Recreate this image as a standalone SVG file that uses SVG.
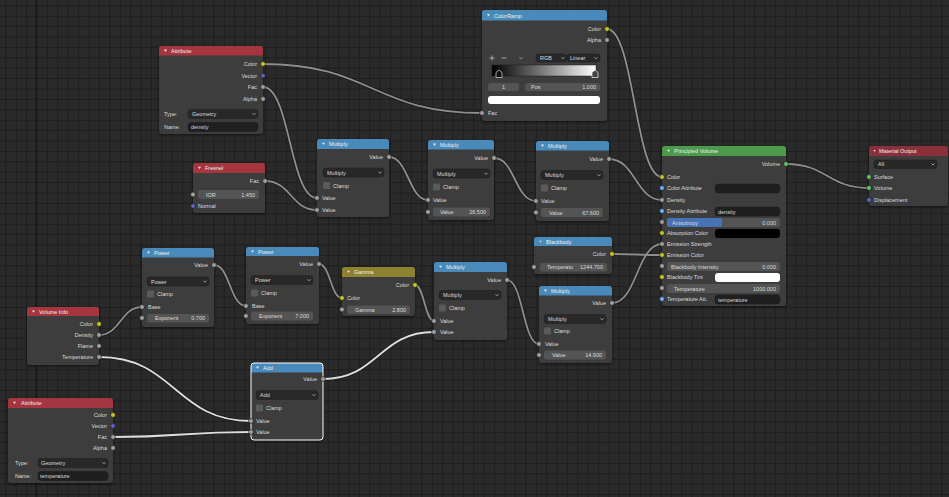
<svg xmlns="http://www.w3.org/2000/svg" width="949" height="497" viewBox="0 0 949 497">
<defs>
<pattern id="grid" patternUnits="userSpaceOnUse" x="5.3" y="5.3" width="10.4" height="10.4">
<rect width="10.4" height="10.4" fill="#2a2a2a"/>
<rect width="1" height="10.4" fill="#1e1e1e"/>
<rect width="10.4" height="1" fill="#1e1e1e"/>
</pattern>
<filter id="sh" x="-10%" y="-10%" width="120%" height="125%">
<feDropShadow dx="0" dy="1" stdDeviation="1.5" flood-color="#000" flood-opacity="0.6"/>
</filter>
<linearGradient id="ramp" x1="0" x2="1" y1="0" y2="0">
<stop offset="0" stop-color="#000"/>
<stop offset="1" stop-color="#fff"/>
</linearGradient>
<style>
text{font-family:"Liberation Sans",Arial,sans-serif;font-size:5.5px;fill:#dcdcdc}
.h{fill:#f0f0f0}
.r{text-anchor:end}
.c{text-anchor:middle}
.body{fill:#3d3d3d;filter:url(#sh)}
.hi{fill:#a5363f}
.hc{fill:#4a8abb}
.hs{fill:#4c9a4a}
.hg{fill:#8e8230}
.ho{fill:#8b2f3a}
.tri{fill:#e8e8e8}
.dd{fill:#282828;stroke:#1c1c1c;stroke-width:0.5}
.num{fill:#545454}
.tf{fill:#1f1f1f;stroke:#1a1a1a;stroke-width:0.5}
.cb{fill:#5a5a5a}
.chev{fill:none;stroke:#cfcfcf;stroke-width:0.7}
.s{stroke:#151515;stroke-width:0.6}
.sy{fill:#c7c729}
.sg{fill:#a1a1a1}
.sp{fill:#6363c7}
.sv{fill:#63c763}
.sb{fill:#70b2ff}
.lo{fill:none;stroke:#1a1a1a;stroke-width:3.2}
.li{fill:none;stroke:#8e8e8e;stroke-width:1.8}
.ls{fill:none;stroke:#dedede;stroke-width:1.8}
</style>
</defs>
<rect width="949" height="497" fill="url(#grid)"/>
<rect x="35.6" y="0" width="1" height="497" fill="#141414"/>

<g id="connectors">
<g class="lo">
<path d="M263,64 C372,64 373,113 482,113"/>
<path d="M263,87 C290,87 290,198 317,198"/>
<path d="M265,181 C291,181 291,210 317,210"/>
<path d="M389,157 C408,157 409,200 428,200"/>
<path d="M494,158 C515,158 515,201 536,201"/>
<path d="M609,159 C635,159 636,200 662,200"/>
<path d="M607,29 C634,29 635,177 662,177"/>
<path d="M786,164 C827,164 828,188 869,188"/>
<path d="M99,335 C120,335 121,307 142,307"/>
<path d="M214,265 C230,265 230,306 246,306"/>
<path d="M319,264 C330,264 331,298 342,298"/>
<path d="M415,285 C424,285 425,321 434,321"/>
<path d="M99,357 C175,357 175,421 251,421"/>
<path d="M113,437 C182,437 182,432 251,432"/>
<path d="M323,379 C378,379 379,332 434,332"/>
<path d="M507,280 C523,280 523,344 539,344"/>
<path d="M612,254 C637,254 637,255 662,255"/>
<path d="M612,303 C637,303 637,244 662,244"/>
</g>
<g class="li">
<path d="M263,64 C372,64 373,113 482,113"/>
<path d="M263,87 C290,87 290,198 317,198"/>
<path d="M265,181 C291,181 291,210 317,210"/>
<path d="M389,157 C408,157 409,200 428,200"/>
<path d="M494,158 C515,158 515,201 536,201"/>
<path d="M609,159 C635,159 636,200 662,200"/>
<path d="M607,29 C634,29 635,177 662,177"/>
<path d="M786,164 C827,164 828,188 869,188"/>
<path d="M99,335 C120,335 121,307 142,307"/>
<path d="M214,265 C230,265 230,306 246,306"/>
<path d="M319,264 C330,264 331,298 342,298"/>
<path d="M415,285 C424,285 425,321 434,321"/>
<path d="M507,280 C523,280 523,344 539,344"/>
<path d="M612,254 C637,254 637,255 662,255"/>
<path d="M612,303 C637,303 637,244 662,244"/>
</g>
<g class="ls">
<path d="M99,357 C175,357 175,421 251,421"/>
<path d="M113,437 C182,437 182,432 251,432"/>
<path d="M323,379 C378,379 379,332 434,332"/>
</g>
</g>

<g id="attribute-density">
<rect class="body" x="159" y="46" width="104" height="88" rx="3"/>
<path class="hi" d="M159,55.5 V49 Q159,46 162,46 H260 Q263,46 263,49 V55.5 Z"/>
<polygon class="tri" points="164,49.6 167,49.6 165.5,51.9"/>
<text class="h" x="171" y="53">Attribute</text>
<text class="r" x="257" y="66">Color</text>
<text class="r" x="257" y="77.5">Vector</text>
<text class="r" x="257" y="89">Fac</text>
<text class="r" x="257" y="101">Alpha</text>
<text x="164" y="116">Type:</text>
<rect class="dd" x="188" y="109.5" width="70" height="9" rx="3"/>
<text x="192" y="116">Geometry</text>
<path class="chev" d="M252.5,113.2 L254,114.7 L255.5,113.2"/>
<text x="164" y="129">Name:</text>
<rect class="tf" x="188" y="122.5" width="70" height="9" rx="3"/>
<text x="191" y="129">density</text>
<circle class="s sy" cx="263" cy="64" r="2.4"/>
<circle class="s sp" cx="263" cy="75.7" r="2.4"/>
<circle class="s sg" cx="263" cy="87" r="2.4"/>
<circle class="s sg" cx="263" cy="99" r="2.4"/>
</g>

<g id="colorramp">
<rect class="body" x="482" y="10" width="125" height="111" rx="3"/>
<path class="hc" d="M482,20.5 V13 Q482,10 485,10 H604 Q607,10 607,13 V20.5 Z"/>
<polygon class="tri" points="487,14.1 490,14.1 488.5,16.4"/>
<text class="h" x="494" y="17.5">ColorRamp</text>
<text class="r" x="601" y="31">Color</text>
<text class="r" x="601" y="42">Alpha</text>
<path class="chev" d="M489.5,58 H494.5 M492,55.5 V60.5"/>
<path class="chev" d="M501.5,58 H506.5"/>
<path class="chev" d="M519.5,57.3 L521,58.8 L522.5,57.3"/>
<rect class="dd" x="536" y="54" width="31" height="8" rx="3"/>
<rect class="dd" x="567" y="54" width="33" height="8" rx="3"/>
<text x="540" y="60">RGB</text>
<path class="chev" d="M561.5,57.3 L563,58.8 L564.5,57.3"/>
<text x="570" y="60">Linear</text>
<path class="chev" d="M594.5,57.3 L596,58.8 L597.5,57.3"/>
<rect x="492" y="65" width="104" height="11" fill="url(#ramp)" stroke="#1a1a1a" stroke-width="0.5"/>
<polygon points="496,77.5 496,72.5 499,70 502,72.5 502,77.5" fill="#111" stroke="#e0e0e0" stroke-width="0.7"/>
<polygon points="592,77.5 592,72.5 595,70 598,72.5 598,77.5" fill="#444" stroke="#f0f0f0" stroke-width="0.7"/>
<rect class="num" x="488" y="83" width="31" height="8" rx="2.5"/>
<text class="c" x="503.5" y="89">1</text>
<rect class="num" x="525" y="83" width="75" height="8" rx="2.5"/>
<text x="531" y="89">Pos</text>
<text class="r" x="596" y="89">1.000</text>
<rect x="488" y="96" width="112" height="8" rx="3" fill="#ffffff"/>
<text x="488" y="115">Fac</text>
<circle class="s sy" cx="607" cy="29" r="2.4"/>
<circle class="s sg" cx="607" cy="40" r="2.4"/>
<circle class="s sg" cx="482" cy="113" r="2.4"/>
</g>

<g id="fresnel">
<rect class="body" x="193" y="163" width="72" height="50" rx="3"/>
<path class="hi" d="M193,173 V166 Q193,163 196,163 H262 Q265,163 265,166 V173 Z"/>
<polygon class="tri" points="198,166.8 201,166.8 199.5,169.1"/>
<text class="h" x="205" y="170.3">Fresnel</text>
<text class="r" x="259" y="183">Fac</text>
<rect class="num" x="198" y="190" width="61" height="9" rx="2.5"/>
<text x="206" y="196.5">IOR</text>
<text class="r" x="255" y="196.5">1.450</text>
<text x="198" y="208">Normal</text>
<circle class="s sg" cx="265" cy="181" r="2.4"/>
<circle class="s sg" cx="193" cy="194.5" r="2.4"/>
<circle class="s sp" cx="193" cy="206" r="2.4"/>
</g>

<g id="multiply-1">
<rect class="body" x="317" y="139" width="72" height="78" rx="3"/>
<path class="hc" d="M317,149 V142 Q317,139 320,139 H386 Q389,139 389,142 V149 Z"/>
<polygon class="tri" points="322,142.8 325,142.8 323.5,145.1"/>
<text class="h" x="329" y="146.3">Multiply</text>
<text class="r" x="383" y="159">Value</text>
<rect class="dd" x="323" y="168" width="61" height="9" rx="3"/>
<text x="327" y="174.5">Multiply</text>
<path class="chev" d="M378.5,171.8 L380,173.3 L381.5,171.8"/>
<rect class="cb" x="323" y="182" width="7" height="7" rx="1"/>
<text x="333" y="187.5">Clamp</text>
<text x="322" y="200">Value</text>
<text x="322" y="212">Value</text>
<circle class="s sg" cx="389" cy="157" r="2.4"/>
<circle class="s sg" cx="317" cy="198" r="2.4"/>
<circle class="s sg" cx="317" cy="210" r="2.4"/>
</g>

<g id="multiply-2">
<rect class="body" x="428" y="140" width="66" height="80" rx="3"/>
<path class="hc" d="M428,149.5 V143 Q428,140 431,140 H491 Q494,140 494,143 V149.5 Z"/>
<polygon class="tri" points="433,143.6 436,143.6 434.5,145.9"/>
<text class="h" x="440" y="147">Multiply</text>
<text class="r" x="488" y="160">Value</text>
<rect class="dd" x="433" y="169" width="57" height="9" rx="3"/>
<text x="437" y="175.5">Multiply</text>
<path class="chev" d="M484.5,172.8 L486,174.3 L487.5,172.8"/>
<rect class="cb" x="433" y="183.5" width="7" height="7" rx="1"/>
<text x="443" y="189">Clamp</text>
<text x="433" y="202">Value</text>
<rect class="num" x="433" y="207.5" width="57" height="9" rx="2.5"/>
<text x="440" y="214">Value</text>
<text class="r" x="486" y="214">26.500</text>
<circle class="s sg" cx="494" cy="158" r="2.4"/>
<circle class="s sg" cx="428" cy="200" r="2.4"/>
<circle class="s sg" cx="428" cy="212" r="2.4"/>
</g>

<g id="multiply-3">
<rect class="body" x="536" y="141" width="73" height="80" rx="3"/>
<path class="hc" d="M536,150.5 V144 Q536,141 539,141 H606 Q609,141 609,144 V150.5 Z"/>
<polygon class="tri" points="541,144.6 544,144.6 542.5,146.9"/>
<text class="h" x="548" y="148">Multiply</text>
<text class="r" x="603" y="161">Value</text>
<rect class="dd" x="541" y="170.5" width="62" height="9" rx="3"/>
<text x="545" y="177">Multiply</text>
<path class="chev" d="M597.5,174.3 L599,175.8 L600.5,174.3"/>
<rect class="cb" x="541" y="184.5" width="7" height="7" rx="1"/>
<text x="551" y="190">Clamp</text>
<text x="541" y="203">Value</text>
<rect class="num" x="541" y="208" width="62" height="9" rx="2.5"/>
<text x="549" y="214.5">Value</text>
<text class="r" x="599" y="214.5">67.600</text>
<circle class="s sg" cx="609" cy="159" r="2.4"/>
<circle class="s sg" cx="536" cy="201" r="2.4"/>
<circle class="s sg" cx="536" cy="212.5" r="2.4"/>
</g>

<g id="principled-volume">
<rect class="body" x="662" y="146" width="124" height="160" rx="3"/>
<path class="hs" d="M662,156 V149 Q662,146 665,146 H783 Q786,146 786,149 V156 Z"/>
<polygon class="tri" points="667,149.8 670,149.8 668.5,152.1"/>
<text class="h" x="674" y="153.3">Principled Volume</text>
<text class="r" x="780" y="166">Volume</text>
<text x="667" y="179">Color</text>
<text x="667" y="190">Color Attribute</text>
<rect class="tf" x="715" y="184" width="65" height="9" rx="3"/>
<text x="667" y="202">Density</text>
<text x="667" y="213">Density Attribute</text>
<rect class="tf" x="715" y="207" width="65" height="9" rx="3"/>
<text x="718" y="213.5">density</text>
<rect class="num" x="667" y="218" width="113" height="9" rx="2.5"/>
<path d="M669.5,218 H722 V227 H669.5 Q667,227 667,224.5 V220.5 Q667,218 669.5,218 Z" fill="#4772b3"/>
<text x="672" y="224.5">Anisotropy</text>
<text class="r" x="776" y="224.5">0.000</text>
<text x="667" y="235">Absorption Color</text>
<rect x="715" y="229" width="65" height="9" rx="3" fill="#000"/>
<text x="667" y="246">Emission Strength</text>
<text x="667" y="257">Emission Color</text>
<rect class="num" x="667" y="262" width="113" height="9" rx="2.5"/>
<text x="671" y="268.5">Blackbody Intensity</text>
<text class="r" x="776" y="268.5">0.000</text>
<text x="667" y="279">Blackbody Tint</text>
<rect x="715" y="273" width="65" height="9" rx="3" fill="#fff"/>
<rect class="num" x="667" y="284" width="113" height="9" rx="2.5"/>
<text x="674" y="290.5">Temperature</text>
<text class="r" x="776" y="290.5">1000.000</text>
<text x="667" y="301">Temperature Att.</text>
<rect class="tf" x="715" y="295" width="65" height="9" rx="3"/>
<text x="718" y="301.5">temperature</text>
<circle class="s sv" cx="786" cy="164" r="2.4"/>
<circle class="s sy" cx="662" cy="177" r="2.4"/>
<circle class="s sb" cx="662" cy="188" r="2.4"/>
<circle class="s sg" cx="662" cy="200" r="2.4"/>
<circle class="s sb" cx="662" cy="211" r="2.4"/>
<circle class="s sg" cx="662" cy="222" r="2.4"/>
<circle class="s sy" cx="662" cy="233" r="2.4"/>
<circle class="s sg" cx="662" cy="244" r="2.4"/>
<circle class="s sy" cx="662" cy="255" r="2.4"/>
<circle class="s sg" cx="662" cy="266" r="2.4"/>
<circle class="s sy" cx="662" cy="277" r="2.4"/>
<circle class="s sg" cx="662" cy="288" r="2.4"/>
<circle class="s sb" cx="662" cy="299" r="2.4"/>
</g>

<g id="material-output">
<rect class="body" x="869" y="146" width="79" height="60" rx="3"/>
<path class="ho" d="M869,156 V149 Q869,146 872,146 H945 Q948,146 948,149 V156 Z"/>
<polygon class="tri" points="873.5,150 875.5,150 874.5,152"/>
<text class="h" x="879" y="153.3">Material Output</text>
<rect class="dd" x="874" y="160" width="63" height="8.5" rx="3"/>
<text x="878" y="166.2">All</text>
<path class="chev" d="M931.5,163.5 L933,165 L934.5,163.5"/>
<text x="874" y="179">Surface</text>
<text x="874" y="190">Volume</text>
<text x="874" y="202">Displacement</text>
<circle class="s sv" cx="869" cy="177" r="2.4"/>
<circle class="s sv" cx="869" cy="188" r="2.4"/>
<circle class="s sp" cx="869" cy="200" r="2.4"/>
</g>

<g id="volume-info">
<rect class="body" x="27" y="307" width="72" height="58" rx="3"/>
<path class="hi" d="M27,316 V310 Q27,307 30,307 H96 Q99,307 99,310 V316 Z"/>
<polygon class="tri" points="32,310.4 35,310.4 33.5,312.7"/>
<text class="h" x="39" y="313.8">Volume Info</text>
<text class="r" x="93" y="326">Color</text>
<text class="r" x="93" y="337">Density</text>
<text class="r" x="93" y="348">Flame</text>
<text class="r" x="93" y="359">Temperature</text>
<circle class="s sy" cx="99" cy="324" r="2.4"/>
<circle class="s sg" cx="99" cy="335" r="2.4"/>
<circle class="s sg" cx="99" cy="346" r="2.4"/>
<circle class="s sg" cx="99" cy="357" r="2.4"/>
</g>

<g id="power-1">
<rect class="body" x="142" y="248" width="72" height="79" rx="3"/>
<path class="hc" d="M142,257.5 V251 Q142,248 145,248 H211 Q214,248 214,251 V257.5 Z"/>
<polygon class="tri" points="147,251.6 150,251.6 148.5,253.9"/>
<text class="h" x="154" y="255">Power</text>
<text class="r" x="208" y="267">Value</text>
<rect class="dd" x="147" y="277" width="62" height="9" rx="3"/>
<text x="151" y="283.5">Power</text>
<path class="chev" d="M203.5,280.8 L205,282.3 L206.5,280.8"/>
<rect class="cb" x="147" y="290.5" width="7" height="7" rx="1"/>
<text x="157" y="296">Clamp</text>
<text x="148" y="309">Base</text>
<rect class="num" x="147" y="314" width="62" height="8.5" rx="2.5"/>
<text x="155" y="320.2">Exponent</text>
<text class="r" x="205" y="320.2">0.700</text>
<circle class="s sg" cx="214" cy="265" r="2.4"/>
<circle class="s sg" cx="142" cy="307" r="2.4"/>
<circle class="s sg" cx="142" cy="318" r="2.4"/>
</g>

<g id="power-2">
<rect class="body" x="246" y="247" width="73" height="77" rx="3"/>
<path class="hc" d="M246,256 V250 Q246,247 249,247 H316 Q319,247 319,250 V256 Z"/>
<polygon class="tri" points="251,250.4 254,250.4 252.5,252.7"/>
<text class="h" x="258" y="253.8">Power</text>
<text class="r" x="313" y="266">Value</text>
<rect class="dd" x="251" y="275.5" width="62" height="9" rx="3"/>
<text x="255" y="282">Power</text>
<path class="chev" d="M307.5,279.3 L309,280.8 L310.5,279.3"/>
<rect class="cb" x="251" y="289.5" width="7" height="7" rx="1"/>
<text x="261" y="295">Clamp</text>
<text x="252" y="308">Base</text>
<rect class="num" x="251" y="311.5" width="62" height="9" rx="2.5"/>
<text x="259" y="318">Exponent</text>
<text class="r" x="309" y="318">7.000</text>
<circle class="s sg" cx="319" cy="264" r="2.4"/>
<circle class="s sg" cx="246" cy="306" r="2.4"/>
<circle class="s sg" cx="246" cy="316" r="2.4"/>
</g>

<g id="gamma">
<rect class="body" x="342" y="267" width="73" height="49" rx="3"/>
<path class="hg" d="M342,277 V270 Q342,267 345,267 H412 Q415,267 415,270 V277 Z"/>
<polygon class="tri" points="347,270.8 350,270.8 348.5,273.1"/>
<text class="h" x="354" y="274.3">Gamma</text>
<text class="r" x="409" y="287">Color</text>
<text x="347" y="300">Color</text>
<rect class="num" x="347" y="305.5" width="63" height="8.5" rx="2.5"/>
<text x="355" y="311.7">Gamma</text>
<text class="r" x="406" y="311.7">2.800</text>
<circle class="s sy" cx="415" cy="285" r="2.4"/>
<circle class="s sy" cx="342" cy="298" r="2.4"/>
<circle class="s sg" cx="342" cy="309.5" r="2.4"/>
</g>

<g id="multiply-4">
<rect class="body" x="434" y="262" width="73" height="78" rx="3"/>
<path class="hc" d="M434,272 V265 Q434,262 437,262 H504 Q507,262 507,265 V272 Z"/>
<polygon class="tri" points="439,265.8 442,265.8 440.5,268.1"/>
<text class="h" x="446" y="269.3">Multiply</text>
<text class="r" x="501" y="282">Value</text>
<rect class="dd" x="439" y="290.5" width="62" height="9" rx="3"/>
<text x="443" y="297">Multiply</text>
<path class="chev" d="M495.5,294.3 L497,295.8 L498.5,294.3"/>
<rect class="cb" x="439" y="304.5" width="7" height="7" rx="1"/>
<text x="449" y="310">Clamp</text>
<text x="440" y="323">Value</text>
<text x="440" y="334">Value</text>
<circle class="s sg" cx="507" cy="280" r="2.4"/>
<circle class="s sg" cx="434" cy="321" r="2.4"/>
<circle class="s sg" cx="434" cy="332" r="2.4"/>
</g>

<g id="blackbody">
<rect class="body" x="534" y="237" width="78" height="37" rx="3"/>
<path class="hc" d="M534,246 V240 Q534,237 537,237 H609 Q612,237 612,240 V246 Z"/>
<polygon class="tri" points="539.5,240.7 541.5,240.7 540.5,242.7"/>
<text class="h" x="546" y="244">Blackbody</text>
<text class="r" x="606" y="256">Color</text>
<rect class="num" x="540" y="263" width="67" height="8.5" rx="2.5"/>
<text x="547" y="269.2">Temperatu</text>
<text class="r" x="603" y="269.2">1244.700</text>
<circle class="s sy" cx="612" cy="254" r="2.4"/>
<circle class="s sg" cx="534" cy="267" r="2.4"/>
</g>

<g id="multiply-5">
<rect class="body" x="539" y="286" width="73" height="77" rx="3"/>
<path class="hc" d="M539,295.5 V289 Q539,286 542,286 H609 Q612,286 612,289 V295.5 Z"/>
<polygon class="tri" points="544,289.6 547,289.6 545.5,291.9"/>
<text class="h" x="551" y="293">Multiply</text>
<text class="r" x="606" y="305">Value</text>
<rect class="dd" x="544" y="314.5" width="62" height="9" rx="3"/>
<text x="548" y="321">Multiply</text>
<path class="chev" d="M600.5,318.3 L602,319.8 L603.5,318.3"/>
<rect class="cb" x="544" y="327.5" width="7" height="7" rx="1"/>
<text x="554" y="333">Clamp</text>
<text x="545" y="346">Value</text>
<rect class="num" x="544" y="350.5" width="62" height="9" rx="2.5"/>
<text x="552" y="357">Value</text>
<text class="r" x="602" y="357">14.900</text>
<circle class="s sg" cx="612" cy="303" r="2.4"/>
<circle class="s sg" cx="539" cy="344" r="2.4"/>
<circle class="s sg" cx="539" cy="355" r="2.4"/>
</g>

<g id="add">
<rect class="body" x="251" y="363" width="72" height="77" rx="3"/>
<path class="hc" d="M251,372.5 V366 Q251,363 254,363 H320 Q323,363 323,366 V372.5 Z"/>
<rect x="251" y="363" width="72" height="77" rx="3" fill="none" stroke="#ffffff" stroke-width="1"/>
<polygon class="tri" points="256,366.6 259,366.6 257.5,368.9"/>
<text class="h" x="263" y="370">Add</text>
<text class="r" x="317" y="381">Value</text>
<rect class="dd" x="256" y="390.5" width="62" height="9" rx="3"/>
<text x="260" y="397">Add</text>
<path class="chev" d="M312.5,394.3 L314,395.8 L315.5,394.3"/>
<rect class="cb" x="256" y="404.5" width="7" height="7" rx="1"/>
<text x="266" y="410">Clamp</text>
<text x="256" y="423">Value</text>
<text x="256" y="434">Value</text>
<circle class="s sg" cx="323" cy="379" r="2.4"/>
<circle class="s sg" cx="251" cy="421" r="2.4"/>
<circle class="s sg" cx="251" cy="432" r="2.4"/>
</g>

<g id="attribute-temperature">
<rect class="body" x="8" y="398" width="105" height="85" rx="3"/>
<path class="hi" d="M8,408 V401 Q8,398 11,398 H110 Q113,398 113,401 V408 Z"/>
<polygon class="tri" points="13,401.8 16,401.8 14.5,404.1"/>
<text class="h" x="21" y="405.3">Attribute</text>
<text class="r" x="107" y="417">Color</text>
<text class="r" x="107" y="428">Vector</text>
<text class="r" x="107" y="439">Fac</text>
<text class="r" x="107" y="450">Alpha</text>
<text x="15" y="465">Type:</text>
<rect class="dd" x="38" y="458.5" width="70" height="9" rx="3"/>
<text x="41" y="465">Geometry</text>
<path class="chev" d="M102.5,462.3 L104,463.8 L105.5,462.3"/>
<text x="15" y="478">Name:</text>
<rect class="tf" x="38" y="471.5" width="70" height="9" rx="3"/>
<text x="40" y="478">temperature</text>
<circle class="s sy" cx="113" cy="415" r="2.4"/>
<circle class="s sp" cx="113" cy="426" r="2.4"/>
<circle class="s sg" cx="113" cy="437" r="2.4"/>
<circle class="s sg" cx="113" cy="448" r="2.4"/>
</g>
</svg>
